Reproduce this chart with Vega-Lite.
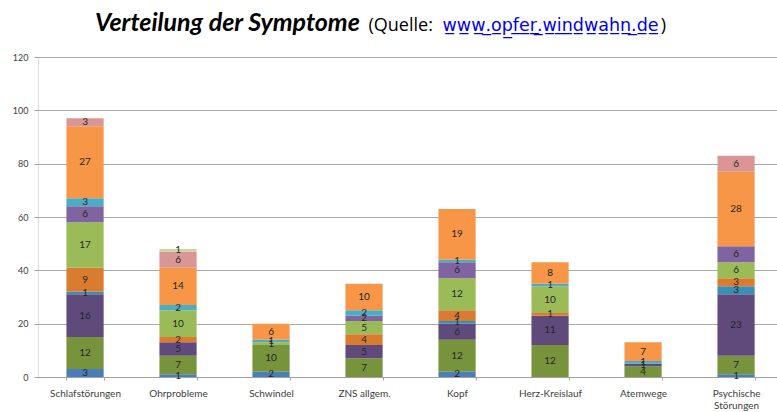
{
  "$schema": "https://vega.github.io/schema/vega-lite/v6.json",
  "width": 739,
  "height": 320,
  "autosize": {"type": "none"},
  "padding": {"left": 38, "top": 57, "right": 0, "bottom": 35},
  "background": "white",
  "title": {
    "text": "Verteilung der Symptome",
    "font": "Lato",
    "fontSize": 25,
    "fontStyle": "italic",
    "fontWeight": "bold",
    "color": "#000000",
    "anchor": "start",
    "frame": "group",
    "baseline": "alphabetic",
    "dx": 57,
    "offset": -40
  },
  "data": {
    "values": [
      {"k": "Schlafstörungen", "s": 1, "v": 3},
      {"k": "Schlafstörungen", "s": 2, "v": 12},
      {"k": "Schlafstörungen", "s": 3, "v": 16},
      {"k": "Schlafstörungen", "s": 4, "v": 1},
      {"k": "Schlafstörungen", "s": 5, "v": 9},
      {"k": "Schlafstörungen", "s": 6, "v": 17},
      {"k": "Schlafstörungen", "s": 7, "v": 6},
      {"k": "Schlafstörungen", "s": 8, "v": 3},
      {"k": "Schlafstörungen", "s": 9, "v": 27},
      {"k": "Schlafstörungen", "s": 10, "v": 3},
      {"k": "Ohrprobleme", "s": 1, "v": 1},
      {"k": "Ohrprobleme", "s": 2, "v": 7},
      {"k": "Ohrprobleme", "s": 3, "v": 5},
      {"k": "Ohrprobleme", "s": 5, "v": 2},
      {"k": "Ohrprobleme", "s": 6, "v": 10},
      {"k": "Ohrprobleme", "s": 8, "v": 2},
      {"k": "Ohrprobleme", "s": 9, "v": 14},
      {"k": "Ohrprobleme", "s": 10, "v": 6},
      {"k": "Ohrprobleme", "s": 11, "v": 1},
      {"k": "Schwindel", "s": 1, "v": 2},
      {"k": "Schwindel", "s": 2, "v": 10},
      {"k": "Schwindel", "s": 6, "v": 1},
      {"k": "Schwindel", "s": 8, "v": 1},
      {"k": "Schwindel", "s": 9, "v": 6},
      {"k": "ZNS allgem.", "s": 2, "v": 7},
      {"k": "ZNS allgem.", "s": 3, "v": 5},
      {"k": "ZNS allgem.", "s": 5, "v": 4},
      {"k": "ZNS allgem.", "s": 6, "v": 5},
      {"k": "ZNS allgem.", "s": 7, "v": 2},
      {"k": "ZNS allgem.", "s": 8, "v": 2},
      {"k": "ZNS allgem.", "s": 9, "v": 10},
      {"k": "Kopf", "s": 1, "v": 2},
      {"k": "Kopf", "s": 2, "v": 12},
      {"k": "Kopf", "s": 3, "v": 6},
      {"k": "Kopf", "s": 4, "v": 1},
      {"k": "Kopf", "s": 5, "v": 4},
      {"k": "Kopf", "s": 6, "v": 12},
      {"k": "Kopf", "s": 7, "v": 6},
      {"k": "Kopf", "s": 8, "v": 1},
      {"k": "Kopf", "s": 9, "v": 19},
      {"k": "Herz-Kreislauf", "s": 2, "v": 12},
      {"k": "Herz-Kreislauf", "s": 3, "v": 11},
      {"k": "Herz-Kreislauf", "s": 5, "v": 1},
      {"k": "Herz-Kreislauf", "s": 6, "v": 10},
      {"k": "Herz-Kreislauf", "s": 8, "v": 1},
      {"k": "Herz-Kreislauf", "s": 9, "v": 8},
      {"k": "Atemwege", "s": 2, "v": 4},
      {"k": "Atemwege", "s": 3, "v": 1},
      {"k": "Atemwege", "s": 8, "v": 1},
      {"k": "Atemwege", "s": 9, "v": 7},
      {"k": "Psychische Störungen", "s": 1, "v": 1},
      {"k": "Psychische Störungen", "s": 2, "v": 7},
      {"k": "Psychische Störungen", "s": 3, "v": 23},
      {"k": "Psychische Störungen", "s": 4, "v": 3},
      {"k": "Psychische Störungen", "s": 5, "v": 3},
      {"k": "Psychische Störungen", "s": 6, "v": 6},
      {"k": "Psychische Störungen", "s": 7, "v": 6},
      {"k": "Psychische Störungen", "s": 9, "v": 28},
      {"k": "Psychische Störungen", "s": 10, "v": 6}
    ]
  },
  "transform": [
    {"stack": "v", "groupby": ["k"], "sort": [{"field": "s", "order": "ascending"}], "as": ["y0", "y1"]},
    {"calculate": "(datum.y0 + datum.y1) / 2", "as": "ym"}
  ],
  "encoding": {
    "x": {
      "field": "k",
      "type": "nominal",
      "sort": ["Schlafstörungen", "Ohrprobleme", "Schwindel", "ZNS allgem.", "Kopf", "Herz-Kreislauf", "Atemwege", "Psychische Störungen"],
      "scale": {"paddingInner": 0.6, "paddingOuter": 0.273, "align": 0.56},
      "axis": {
        "title": "w\u0332w\u0332w\u0332.\u0332o\u0332p\u0332f\u0332e\u0332r\u0332.\u0332w\u0332i\u0332n\u0332d\u0332w\u0332a\u0332h\u0332n\u0332.\u0332d\u0332e\u0332",
        "titleFont": "DejaVu Sans",
        "titleFontSize": 17.5,
        "titleFontWeight": "normal",
        "titleColor": "#0000EE",
        "titleAnchor": "start",
        "titleAlign": "left",
        "titleBaseline": "alphabetic",
        "titleX": 404,
        "titleY": -347,
        "labelAngle": 0,
        "labelFont": "Lato",
        "labelFontSize": 10,
        "labelColor": "#404040",
        "labelPadding": 8,
        "labelExpr": "datum.label == 'Psychische Störungen' ? ['Psychische', 'Störungen'] : datum.label",
        "tickBand": "extent",
        "tickSize": 3,
        "tickColor": "#A0A0A0",
        "domainColor": "#A0A0A0"
      }
    }
  },
  "layer": [
    {
      "mark": {"type": "bar"},
      "encoding": {
        "y": {
          "field": "y0",
          "type": "quantitative",
          "scale": {"domain": [0, 120]},
          "axis": {
            "values": [0, 20, 40, 60, 80, 100, 120],
            "title": "(Quelle:\u2003\u2003\u2003\u2003\u2003\u2003\u2003\u2003\u2003\u2003\u2003\u2003\u2002\u2009)",
            "titleFont": "Open Sans",
            "titleFontSize": 18,
            "titleFontWeight": "normal",
            "titleColor": "#000000",
            "titleAngle": 0,
            "titleAlign": "left",
            "titleBaseline": "alphabetic",
            "titleX": 330,
            "titleY": -27,
            "labelFont": "Lato",
            "labelFontSize": 9,
            "labelColor": "#404040",
            "labelPadding": 6,
            "tickSize": 4,
            "tickColor": "#A0A0A0",
            "domain": false,
            "gridColor": "#A8A8A8",
            "gridWidth": 1
          }
        },
        "y2": {"field": "y1"},
        "color": {
          "field": "s",
          "type": "ordinal",
          "legend": null,
          "scale": {
            "domain": [1, 2, 3, 4, 5, 6, 7, 8, 9, 10, 11],
            "range": ["#4A7EBB", "#77933C", "#604A7B", "#3A8FB7", "#DA7C30", "#9BBB59", "#8064A2", "#4BACC6", "#F79646", "#D99694", "#C3D69B"]
          }
        }
      }
    },
    {
      "mark": {"type": "text", "font": "Lato", "fontSize": 10, "color": "#262626", "baseline": "middle"},
      "encoding": {
        "y": {"field": "ym", "type": "quantitative"},
        "text": {"field": "v", "type": "quantitative"}
      }
    }
  ]
}
